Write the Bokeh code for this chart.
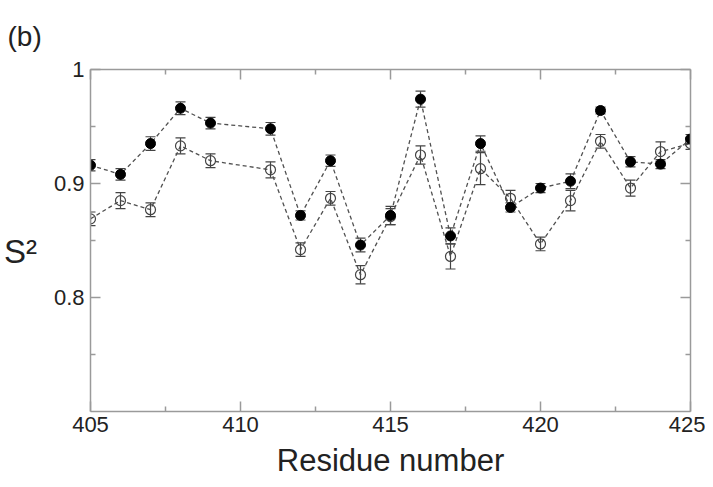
from bokeh.plotting import figure
from bokeh.models import (ColumnDataSource, Whisker, TeeHead, LinearAxis,
                          FixedTicker, Range1d, CustomJSTickFormatter, Title)
from bokeh.embed import file_html
from bokeh.resources import INLINE

# ---- data ----
residues = [405, 406, 407, 408, 409, 411, 412, 413, 414, 415,
            416, 417, 418, 419, 420, 421, 422, 423, 424, 425]
s2_filled = [0.916, 0.908, 0.935, 0.966, 0.953, 0.948, 0.872, 0.920, 0.846, 0.872,
             0.974, 0.854, 0.935, 0.879, 0.896, 0.902, 0.964, 0.919, 0.917, 0.939]
err_filled = [0.005, 0.005, 0.006, 0.0056, 0.005, 0.0055, 0.004, 0.005, 0.006, 0.008,
              0.007, 0.007, 0.0067, 0.004, 0.004, 0.0065, 0.003, 0.0045, 0.004, 0.004]
s2_open = [0.869, 0.885, 0.877, 0.933, 0.920, 0.912, 0.842, 0.887, 0.820, 0.871,
           0.925, 0.836, 0.913, 0.887, 0.847, 0.885, 0.937, 0.896, 0.928, 0.935]
err_open = [0.006, 0.007, 0.006, 0.007, 0.006, 0.007, 0.006, 0.006, 0.008, 0.007,
            0.008, 0.011, 0.014, 0.007, 0.006, 0.009, 0.006, 0.007, 0.0085, 0.005]

x_ticks = [405, 410, 415, 420, 425]
x_minor = [407.5, 412.5, 417.5, 422.5]
y_ticks = [0.8, 0.9, 1.0]
y_minor = [0.75, 0.85, 0.95]
y_tick_labels = ["0.8", "0.9", "1"]

FONT = "Liberation Sans"
AX_COLOR = "#9a9a9a"
TXT = "#222222"

src_f = ColumnDataSource(dict(x=residues, y=s2_filled,
                              lo=[v - e for v, e in zip(s2_filled, err_filled)],
                              hi=[v + e for v, e in zip(s2_filled, err_filled)]))
src_o = ColumnDataSource(dict(x=residues, y=s2_open,
                              lo=[v - e for v, e in zip(s2_open, err_open)],
                              hi=[v + e for v, e in zip(s2_open, err_open)]))

p = figure(frame_width=600, frame_height=342,
           x_range=Range1d(405, 425), y_range=Range1d(0.7, 1.0),
           output_backend="svg", toolbar_location=None,
           min_border_left=90, min_border_right=15,
           min_border_top=69, min_border_bottom=60,
           x_axis_label="Residue number", y_axis_label="\nS²")
p.grid.visible = False
p.outline_line_color = None
p.background_fill_color = "white"
p.border_fill_color = "white"

def style_axis(ax, ticks, minor, show_labels):
    ax.ticker = FixedTicker(ticks=ticks, minor_ticks=minor)
    ax.axis_line_color = AX_COLOR
    ax.axis_line_width = 1.5
    ax.major_tick_line_color = AX_COLOR
    ax.minor_tick_line_color = AX_COLOR
    ax.major_tick_line_width = 1.5
    ax.minor_tick_line_width = 1.5
    ax.major_tick_in = 10
    ax.major_tick_out = 0
    ax.minor_tick_in = 5
    ax.minor_tick_out = 0
    if show_labels:
        ax.major_label_text_font = FONT
        ax.major_label_text_font_size = "22px"
        ax.major_label_text_color = TXT
    else:
        ax.formatter = CustomJSTickFormatter(code="return ''")
        ax.major_label_standoff = 0

xa = p.xaxis[0]
style_axis(xa, x_ticks, x_minor, True)
xa.major_label_standoff = 5
xa.axis_label_text_font = FONT
xa.axis_label_text_font_size = "31px"
xa.axis_label_text_font_style = "normal"
xa.axis_label_text_color = TXT
xa.axis_label_standoff = 8

ya = p.yaxis[0]
style_axis(ya, y_ticks, y_minor, True)
ya.major_label_standoff = 6
ya.major_label_overrides = {t: lab for t, lab in zip(y_ticks, y_tick_labels)}
ya.axis_label_orientation = "horizontal"
ya.axis_label_text_font = FONT
ya.axis_label_text_font_size = "33px"
ya.axis_label_text_font_style = "normal"
ya.axis_label_text_color = TXT
ya.axis_label_standoff = 14
ya.axis_label_text_line_height = 0.6

top = LinearAxis()
style_axis(top, x_ticks, x_minor, False)
p.add_layout(top, "above")
right = LinearAxis()
style_axis(right, y_ticks, y_minor, False)
p.add_layout(right, "right")

# panel label
p.add_layout(Title(text="(b)", align="left", offset=-83, standoff=35,
                   text_font=FONT, text_font_size="28px",
                   text_font_style="normal", text_color=TXT), "above")

# dashed connecting lines
p.line("x", "y", source=src_f, line_color="#505050", line_width=1.3, line_dash="4 3")
p.line("x", "y", source=src_o, line_color="#505050", line_width=1.3, line_dash="4 3")

# error bars
for src in (src_f, src_o):
    w = Whisker(base="x", upper="hi", lower="lo", source=src,
                line_color="#444444", line_width=1.2,
                upper_head=TeeHead(size=10, line_color="#444444", line_width=1.2),
                lower_head=TeeHead(size=10, line_color="#444444", line_width=1.2))
    p.add_layout(w)

# markers
p.scatter("x", "y", source=src_o, size=10, fill_color=None,
          line_color="#444444", line_width=1.2)
p.scatter("x", "y", source=src_f, size=10, fill_color="black",
          line_color="black")

open("out.html", "w").write(file_html(p, INLINE))
